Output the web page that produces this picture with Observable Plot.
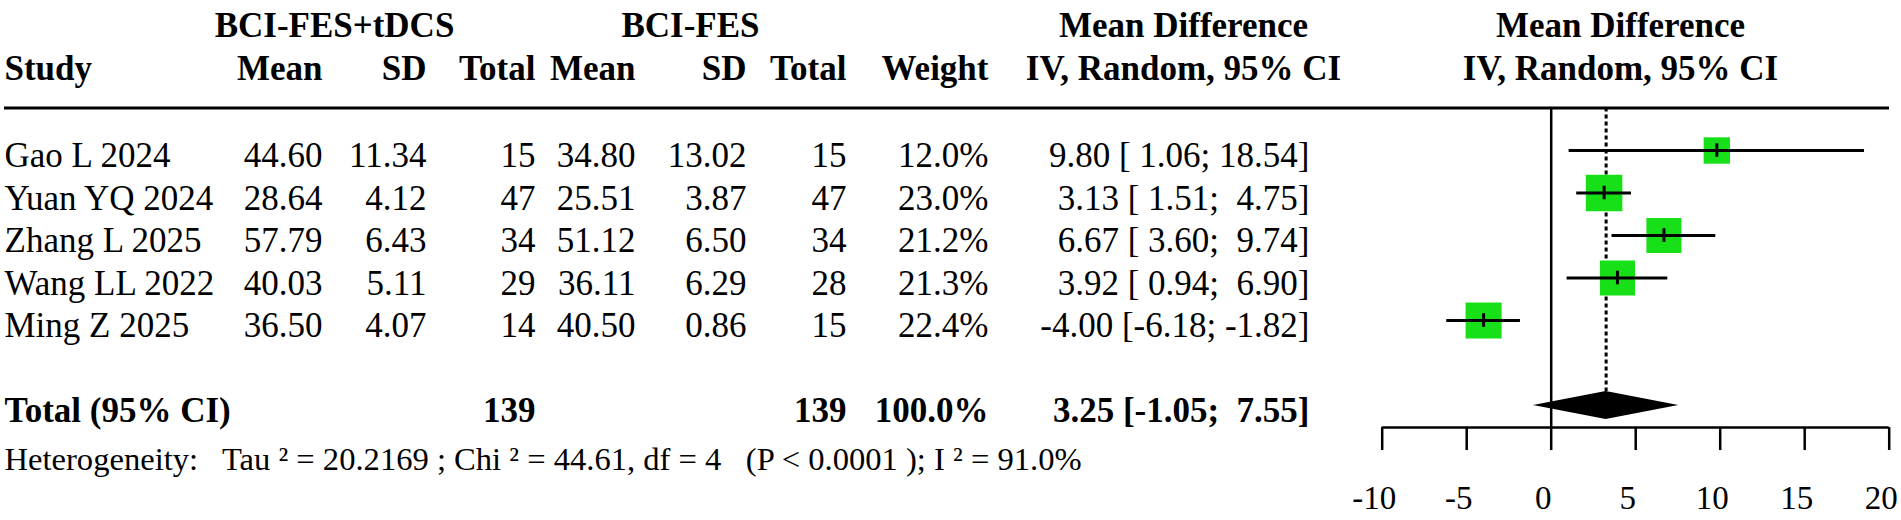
<!DOCTYPE html>
<html>
<head>
<meta charset="utf-8">
<script src="https://cdn.jsdelivr.net/npm/d3@7"></script>
<script src="https://cdn.jsdelivr.net/npm/@observablehq/plot@0.6"></script>
<style>
  html, body { margin: 0; padding: 0; background: #fff; }
  #chart svg { display: block; }
  #chart svg text { white-space: pre; }
</style>
</head>
<body>
<div id="chart"></div>
<script>
// ---------------- DATA ----------------
const studies = ["Gao L 2024", "Yuan YQ 2024", "Zhang L 2025", "Wang LL 2022", "Ming Z 2025"];
const meanE = [44.60, 28.64, 57.79, 40.03, 36.50];
const sdE   = [11.34, 4.12, 6.43, 5.11, 4.07];
const nE    = [15, 47, 34, 29, 14];
const meanC = [34.80, 25.51, 51.12, 36.11, 40.50];
const sdC   = [13.02, 3.87, 6.50, 6.29, 0.86];
const nC    = [15, 47, 34, 28, 15];
const weightPct = [12.0, 23.0, 21.2, 21.3, 22.4];
const md    = [9.80, 3.13, 6.67, 3.92, -4.00];
const ciLo  = [1.06, 1.51, 3.60, 0.94, -6.18];
const ciHi  = [18.54, 4.75, 9.74, 6.90, -1.82];

const totalLabel = "Total (95% CI)";
const totalNE = 139, totalNC = 139, totalWeight = 100.0;
const totalMD = 3.25, totalLo = -1.05, totalHi = 7.55;

const hetText = "Heterogeneity:   Tau \u00B2 = 20.2169 ; Chi \u00B2 = 44.61, df = 4   (P < 0.0001 ); I \u00B2 = 91.0%";

const groupLabels = ["BCI-FES+tDCS", "BCI-FES"];
const colLabels = ["Study", "Mean", "SD", "Total", "Mean", "SD", "Total", "Weight"];
const effectLabels = ["Mean Difference", "IV, Random, 95% CI"];
const xTicks = [-10, -5, 0, 5, 10, 15, 20];

// ---------------- LAYOUT / STYLE ----------------
const L = {
  width: 1901, height: 520,
  marginLeft: 4, marginRight: 12, marginTop: 0, marginBottom: 93,
  font: "Liberation Serif", fs: 35, fsHet: 32.6, fsTick: 33,
  rowTop: 107.5, rowStep: 42.5,
  textDy: 5.5, headDy: 3,
  xRange: [1381.7, 1888.7],
  green: "#18e018",
  diamondHalf: 0.33, pointHalf: 0.16,
  tickLabelDx: -8, tickLabelOffset: 58
};
const R = { group: -2, head: -1, rule: 0, total: 7, axis: 7.52, tickEnd: 8.06, het: 8.14 };
const colKeys = ["study", "meanE", "sdE", "nE", "meanC", "sdC", "nC", "weight"];
const colPx = [4, 322, 426, 535, 635, 746, 846, 988];
const colAnchor = ["start", "end", "end", "end", "end", "end", "end", "end"];
const groupPx = [334, 690];
const ciPx = 1309, ciHeadPx = 1183, forestHeadPx = 1620;

// ---------------- BUILD ----------------
const f2 = v => v.toFixed(2);
const ciText = (m, l, h) => `${f2(m).padStart(5)} [${f2(l).padStart(5)}; ${f2(h).padStart(5)}]`;

const rows = studies.map((s, i) => ({
  row: i + 1, study: s,
  meanE: f2(meanE[i]), sdE: f2(sdE[i]), nE: String(nE[i]),
  meanC: f2(meanC[i]), sdC: f2(sdC[i]), nC: String(nC[i]),
  weight: weightPct[i].toFixed(1) + "%",
  ci: ciText(md[i], ciLo[i], ciHi[i]),
  md: md[i], lo: ciLo[i], hi: ciHi[i], w: weightPct[i]
}));
const total = {
  row: R.total, study: totalLabel, nE: String(totalNE), nC: String(totalNC),
  weight: totalWeight.toFixed(1) + "%", ci: ciText(totalMD, totalLo, totalHi)
};
const diamond = [
  { y: R.total - L.diamondHalf, x1: totalMD, x2: totalMD },
  { y: R.total, x1: totalLo, x2: totalHi },
  { y: R.total + L.diamondHalf, x1: totalMD, x2: totalMD }
];

const txt = { fontFamily: L.font, fontSize: L.fs, fill: "black", frameAnchor: "left" };
const at = px => px - L.marginLeft;

const marks = [];
// top rule
marks.push(Plot.ruleY([R.rule], { y: d => d, stroke: "black", strokeWidth: 3 }));

// group headers
groupLabels.forEach((g, i) => marks.push(Plot.text([g], { ...txt, y: () => R.group, text: d => d, dx: at(groupPx[i]), dy: L.headDy, textAnchor: "middle", fontWeight: "bold" })));
// column headers
colLabels.forEach((c, i) => marks.push(Plot.text([c], { ...txt, y: () => R.head, text: d => d, dx: at(colPx[i]), dy: L.headDy, textAnchor: colAnchor[i], fontWeight: "bold" })));
// effect headers (table column and forest)
[ciHeadPx, forestHeadPx].forEach(px => {
  marks.push(Plot.text([effectLabels[0]], { ...txt, y: () => R.group, text: d => d, dx: at(px), dy: L.headDy, textAnchor: "middle", fontWeight: "bold" }));
  marks.push(Plot.text([effectLabels[1]], { ...txt, y: () => R.head, text: d => d, dx: at(px), dy: L.headDy, textAnchor: "middle", fontWeight: "bold" }));
});

// study rows
colKeys.forEach((k, i) => marks.push(Plot.text(rows, { ...txt, y: "row", text: k, dx: at(colPx[i]), dy: L.textDy, textAnchor: colAnchor[i] })));
marks.push(Plot.text(rows, { ...txt, y: "row", text: "ci", dx: at(ciPx), dy: L.textDy, textAnchor: "end" }));

// total row
["study", "nE", "nC", "weight"].forEach(k => {
  const i = colKeys.indexOf(k);
  marks.push(Plot.text([total], { ...txt, y: "row", text: k, dx: at(colPx[i]), dy: L.textDy, textAnchor: colAnchor[i], fontWeight: "bold" }));
});
marks.push(Plot.text([total], { ...txt, y: "row", text: "ci", dx: at(ciPx), dy: L.textDy, textAnchor: "end", fontWeight: "bold" }));

// heterogeneity
marks.push(Plot.text([hetText], { ...txt, fontSize: L.fsHet, y: () => R.het, text: d => d, dx: 0, dy: L.textDy, textAnchor: "start" }));

// forest: reference lines
marks.push(Plot.ruleX([0], { x: d => d, y1: R.rule, y2: R.axis, stroke: "black", strokeWidth: 2.5 }));
marks.push(Plot.ruleX([totalMD], { x: d => d, y1: R.rule, y2: R.total - L.diamondHalf, stroke: "black", strokeWidth: 3, strokeDasharray: "4,3" }));
// squares
marks.push(Plot.dot(rows, { x: "md", y: "row", r: "w", symbol: "square", fill: L.green, stroke: "none" }));
// CI lines
marks.push(Plot.ruleY(rows, { y: "row", x1: "lo", x2: "hi", stroke: "black", strokeWidth: 3 }));
// point marks
marks.push(Plot.ruleX(rows, { x: "md", y1: d => d.row - L.pointHalf, y2: d => d.row + L.pointHalf, stroke: "black", strokeWidth: 3 }));
// diamond
marks.push(Plot.areaX(diamond, { y: "y", x1: "x1", x2: "x2", fill: "black" }));
// axis line and ticks
marks.push(Plot.ruleY([R.axis], { y: d => d, x1: xTicks[0], x2: xTicks[xTicks.length - 1], stroke: "black", strokeWidth: 2.5 }));
marks.push(Plot.ruleX(xTicks, { x: d => d, y1: R.axis, y2: R.tickEnd, stroke: "black", strokeWidth: 2.5 }));
// axis labels
marks.push(Plot.axisX(xTicks, { anchor: "bottom", tickSize: 0, tickPadding: L.tickLabelOffset, dx: L.tickLabelDx, fontSize: L.fsTick, fontFamily: L.font, fill: "black", label: null, tickFormat: d => String(d) }));

const chart = Plot.plot({
  width: L.width, height: L.height,
  marginLeft: L.marginLeft, marginRight: L.marginRight, marginTop: L.marginTop, marginBottom: L.marginBottom,
  style: { background: "white", fontFamily: L.font, overflow: "visible", color: "black" },
  x: { type: "linear", domain: [xTicks[0], xTicks[xTicks.length - 1]], range: L.xRange },
  y: { type: "linear", domain: [0, 1], range: [L.rowTop, L.rowTop + L.rowStep], axis: null },
  r: { type: "sqrt", domain: [0, d3.max(weightPct)], range: [0, 20.6] },
  marks
});
chart.setAttributeNS("http://www.w3.org/XML/1998/namespace", "xml:space", "preserve");
document.getElementById("chart").appendChild(chart);
</script>
</body>
</html>
